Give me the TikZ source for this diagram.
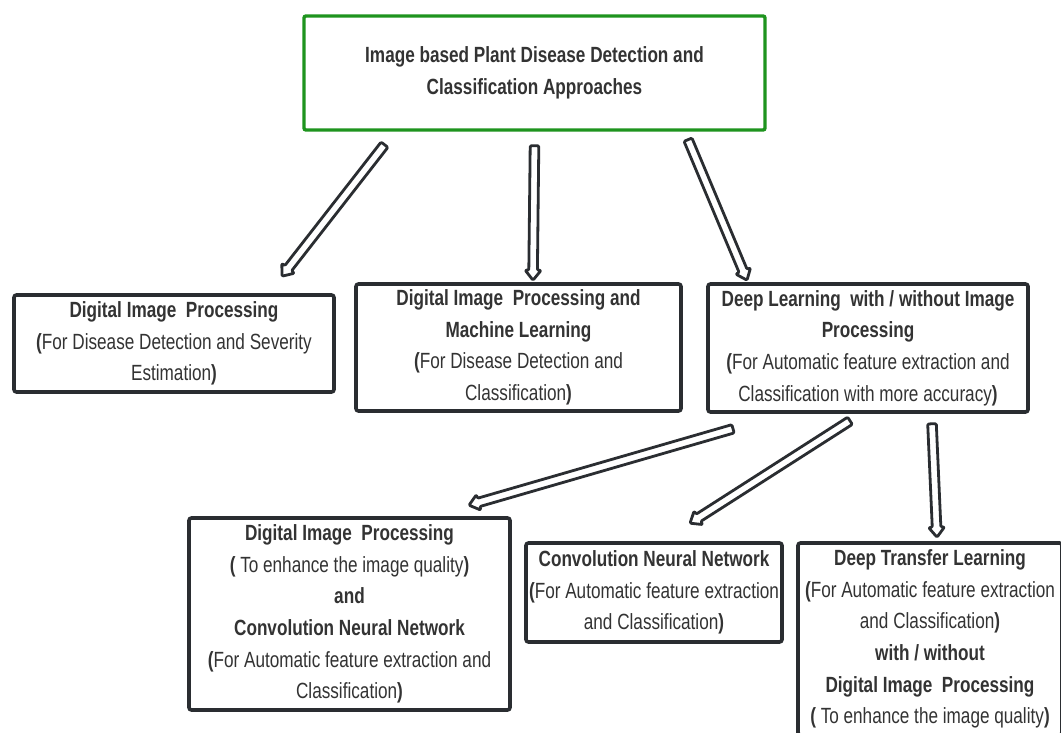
\documentclass[tikz,border=0pt]{standalone}
\usepackage{fontspec}
\setmainfont{Liberation Sans}[FakeStretch=0.78]
\usetikzlibrary{calc}
\definecolor{inkline}{HTML}{2A2D31}
\definecolor{inktext}{HTML}{333333}
\definecolor{leafgreen}{HTML}{1E941E}
\newcommand{\bp}[1]{\textbf{#1}}
\tikzset{
  box/.style={draw=inkline, line width=3.6pt, rounded corners=2.5pt, fill=white,
    align=center, text=inktext, inner sep=0pt,
    font=\fontsize{22}{31.6}\selectfont},
  rootbox/.style={box, draw=leafgreen, line width=3.4pt, rounded corners=2pt},
  blockarrow/.style={draw=inkline, fill=white, line width=2.8pt, line join=round,
    rounded corners=1.2pt,
    to path={
      -- ($(\tikztostart)!4.3pt!90:(\tikztotarget)$)
      -- ($($(\tikztotarget)!10pt!(\tikztostart)$)!4.3pt!90:(\tikztotarget)$)
      -- ($($(\tikztotarget)!10pt!(\tikztostart)$)!8pt!90:(\tikztotarget)$)
      -- (\tikztotarget)
      -- ($($(\tikztotarget)!10pt!(\tikztostart)$)!8pt!-90:(\tikztotarget)$)
      -- ($($(\tikztotarget)!10pt!(\tikztostart)$)!4.3pt!-90:(\tikztotarget)$)
      -- ($(\tikztostart)!4.3pt!-90:(\tikztotarget)$)
      -- cycle}}
}
\begin{document}
\begin{tikzpicture}[x=1pt, y=-1pt]
\useasboundingbox (0,0) rectangle (1061,733);
\clip (0,0) rectangle (1061,733);
\fill[white] (0,0) rectangle (1061,733);

% root of the classification tree
\node[rootbox, minimum width=461pt, minimum height=114pt] (top) at (534.5,73)
  {\bfseries Image based Plant Disease Detection and\\ \bfseries Classification Approaches};

% first level: three families of approaches
\node[box, minimum width=320pt, minimum height=97pt] (A) at (174,343.5)
  {\textbf{Digital Image\ \ Processing}\\ \bp{(}For Disease Detection and Severity\\ Estimation\bp{)}};
\node[box, minimum width=325pt, minimum height=127pt] (B) at (518.5,347.5)
  {\textbf{Digital Image\ \ Processing and}\\ \textbf{Machine Learning}\\ \bp{(}For Disease Detection and\\ Classification\bp{)}};
\node[box, minimum width=320pt, minimum height=128pt] (C) at (868,348)
  {\textbf{Deep Learning\ \ with / without Image}\\ \textbf{Processing}\\ \bp{(}For Automatic feature extraction and\\ Classification with more accuracy\bp{)}};

% second level: deep learning variants
\node[box, minimum width=321pt, minimum height=192pt] (D) at (349.5,614)
  {\textbf{Digital Image\ \ Processing}\\ \bp{(} To enhance the image quality\bp{)}\\ \textbf{and}\\ \textbf{Convolution Neural Network}\\ \bp{(}For Automatic feature extraction and\\ Classification\bp{)}};
\node[box, minimum width=256pt, minimum height=99pt] (E) at (654,592.5)
  {\textbf{Convolution Neural Network}\\ \bp{(}For Automatic feature extraction\\ and Classification\bp{)}};
\node[box, minimum width=264pt, minimum height=192pt] (F) at (930,639)
  {\textbf{Deep Transfer Learning}\\ \bp{(}For Automatic feature extraction\\ and Classification\bp{)}\\ \textbf{with / without}\\ \textbf{Digital Image\ \ Processing}\\ \bp{(} To enhance the image quality\bp{)}};

% hollow block arrows
\path[blockarrow] ($(top.south)+(-150,13)$) to ($(A.north)+(108,-17)$);
\path[blockarrow] ($(top.south)+(0,14)$) to ($(B.north)+(14.5,-2)$);
\path[blockarrow] ($(top.south)+(153.5,8)$) to ($(C.north)+(-121,-2)$);
\path[blockarrow] ($(C.south)+(-135,15)$) to ($(D.north)+(119.5,-11)$);
\path[blockarrow] ($(C.south)+(-18,7)$) to ($(E.north)+(36,-18)$);
\path[blockarrow] ($(C.south)+(64,10)$) to ($(F.north)+(7,-4)$);
\end{tikzpicture}
\end{document}
